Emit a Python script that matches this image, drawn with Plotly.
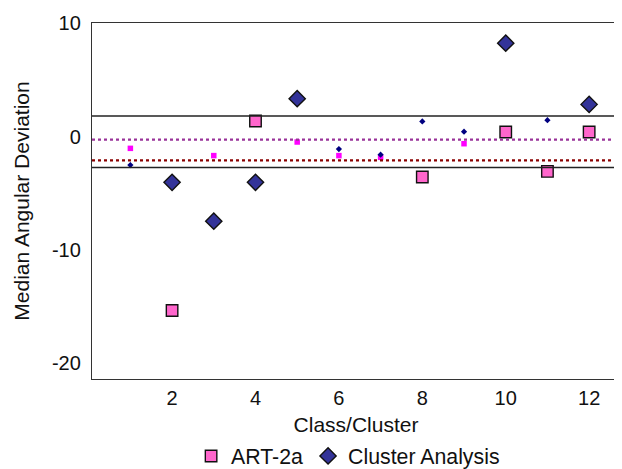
import plotly.graph_objects as go

# ---- data ----
classes = [1, 2, 3, 4, 5, 6, 7, 8, 9, 10, 11, 12]
art2a_values = [-1.04, -15.34, -1.68, 1.37, -0.48, -1.68, -1.83, -3.57, -0.63, 0.40, -3.07, 0.40]
art2a_major = [False, True, False, True, False, False, False, True, False, True, True, True]
cluster_values = [-2.51, -4.04, -7.47, -4.04, 3.34, -1.10, -1.60, 1.34, 0.43, 8.24, 1.45, 2.84]
cluster_major = [False, True, True, True, True, False, False, False, False, True, False, True]
band_levels = [1.81, -2.74]          # solid black reference lines
art2a_level = -0.27                  # purple dotted line
cluster_level = -2.10                # dark red dotted line
y_ticks = [-20, -10, 0, 10]
y_tick_labels = ["-20", "-10", "0", "10"]
x_ticks = [2, 4, 6, 8, 10, 12]


def pick(xs, ys, flags, want):
    px = [x for x, f in zip(xs, flags) if f == want]
    py = [y for y, f in zip(ys, flags) if f == want]
    return px, py


fig = go.Figure()

# reference lines
for lv in band_levels:
    fig.add_shape(type="line", xref="paper", x0=0, x1=1, yref="y", y0=lv, y1=lv,
                  line=dict(color="#222222", width=1.5))
fig.add_shape(type="line", xref="paper", x0=0, x1=1, yref="y", y0=art2a_level, y1=art2a_level,
              line=dict(color="#993399", width=2.2, dash="dot"))
fig.add_shape(type="line", xref="paper", x0=0, x1=1, yref="y", y0=cluster_level, y1=cluster_level,
              line=dict(color="#8B0000", width=2.2, dash="dot"))

# ART-2a
bx, by = pick(classes, art2a_values, art2a_major, True)
sx, sy = pick(classes, art2a_values, art2a_major, False)
fig.add_trace(go.Scatter(x=bx, y=by, mode="markers", name="ART-2a", legendgroup="art",
                         marker=dict(symbol="square", size=11.5, color="#FF66CC",
                                     line=dict(color="#111111", width=1.4))))
fig.add_trace(go.Scatter(x=sx, y=sy, mode="markers", name="ART-2a", legendgroup="art",
                         showlegend=False,
                         marker=dict(symbol="square", size=5.5, color="#FF00FF",
                                     line=dict(width=0))))

# Cluster analysis
bx, by = pick(classes, cluster_values, cluster_major, True)
sx, sy = pick(classes, cluster_values, cluster_major, False)
fig.add_trace(go.Scatter(x=bx, y=by, mode="markers", name="Cluster Analysis", legendgroup="ca",
                         marker=dict(symbol="diamond", size=12.5, color="#333399",
                                     line=dict(color="#111111", width=1.4))))
fig.add_trace(go.Scatter(x=sx, y=sy, mode="markers", name="Cluster Analysis", legendgroup="ca",
                         showlegend=False,
                         marker=dict(symbol="diamond", size=4.8, color="#000080",
                                     line=dict(width=0))))

font_family = "Liberation Sans, Arial, Helvetica, sans-serif"

# the page body adds an 8px offset, so the figure is sized to end at the window edge
fig.update_layout(
    width=614, height=461,
    margin=dict(l=83.5, r=2, t=14.7, b=90),
    paper_bgcolor="white", plot_bgcolor="white",
    font=dict(family=font_family, size=20, color="#111111"),
    showlegend=True,
    legend=dict(orientation="h", xanchor="center", x=0.485, yref="container",
                yanchor="middle", y=0.028, font=dict(size=21.3),
                bgcolor="rgba(0,0,0,0)"),
)
fig.update_xaxes(range=[0.08, 12.74], tickvals=x_ticks, ticks="", showgrid=False,
                 zeroline=False, showline=True, linecolor="#333333", linewidth=1.4,
                 mirror=True, ticklabelstandoff=1, automargin=False,
                 title=dict(text="Class/Cluster", font=dict(size=21), standoff=13))
fig.update_yaxes(range=[-21.39, 10.02], tickvals=y_ticks, ticktext=y_tick_labels, ticks="",
                 showgrid=False, zeroline=False, showline=True, linecolor="#333333",
                 linewidth=1.4, mirror=False, ticklabelstandoff=6, automargin=False,
                 title=dict(text="Median Angular Deviation", font=dict(size=21), standoff=16))

fig.write_html("out.html")
